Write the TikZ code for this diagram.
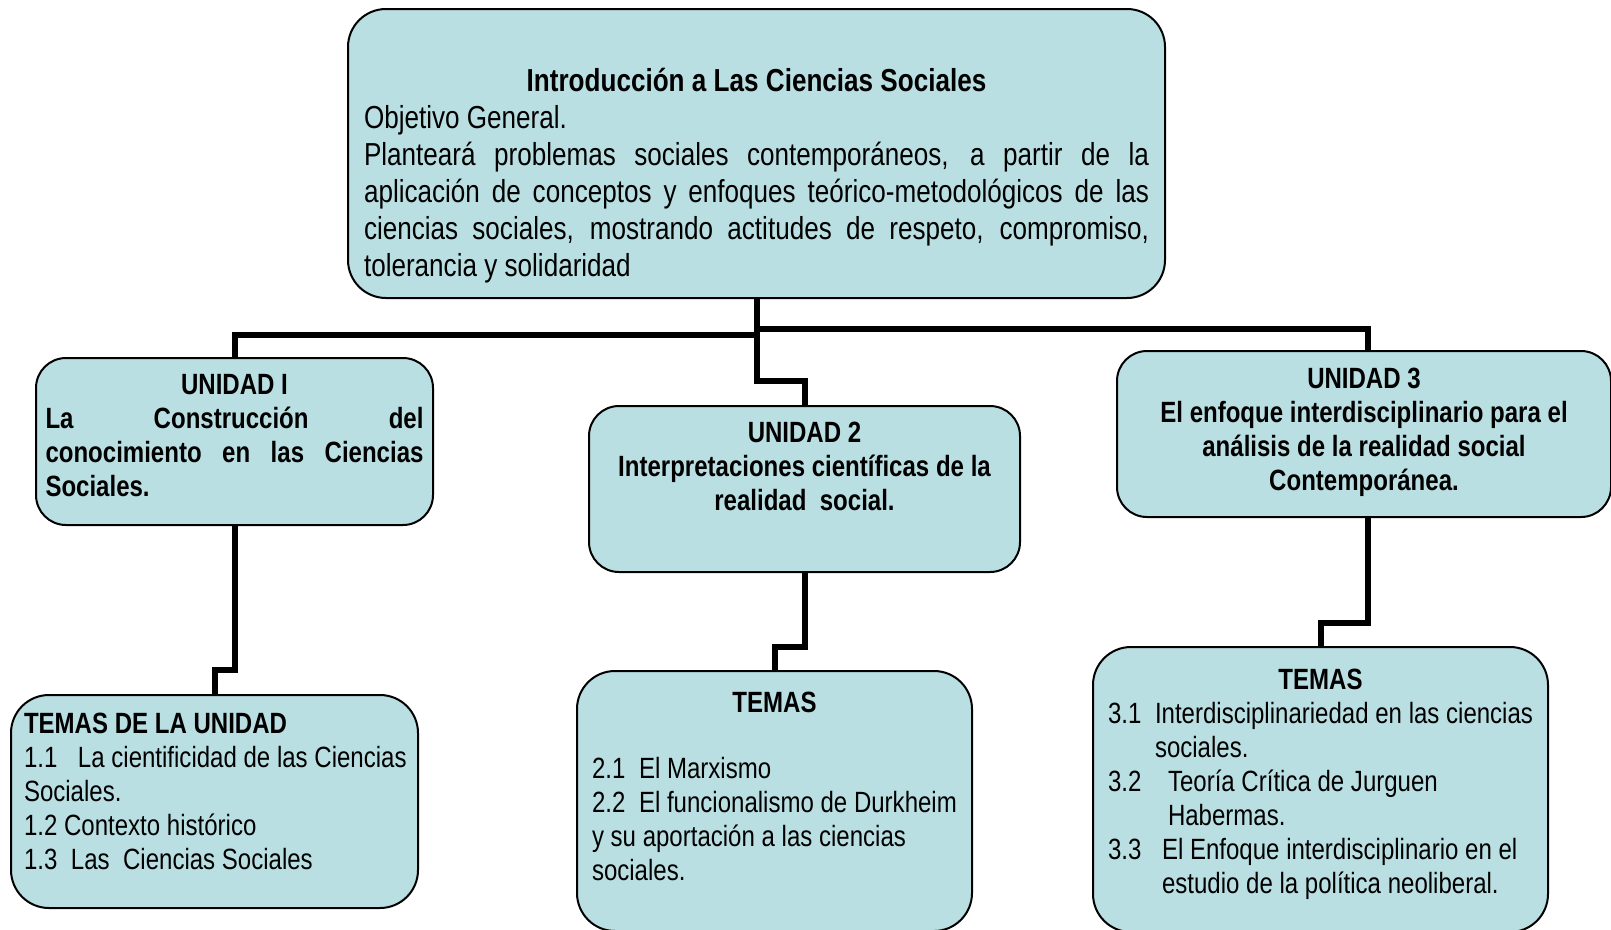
\documentclass[tikz,border=0pt]{standalone}
\usepackage{fontspec}
\setmainfont[FakeStretch=0.82]{Liberation Sans}
\usepackage{tikz}
\usetikzlibrary{positioning}
\usetikzlibrary{calc}

\definecolor{boxfill}{RGB}{185,223,227}
\newcommand{\jline}[1]{{\spaceskip=7pt plus 1fil\makebox[\linewidth][s]{#1}}}
\newcommand{\cenline}[1]{\makebox[\linewidth][c]{#1}}
\newcommand{\tema}[3]{\makebox[#1][l]{#2}\mbox{#3}}

\begin{document}
\begin{tikzpicture}[x=1pt,y=-1pt,main node/.style={draw,fill=boxfill,line width=2pt,rounded corners=38pt,anchor=north west,inner ysep=0pt,align=left,font=\fontsize{29.3}{34}\selectfont,execute at begin node={\spaceskip=6.7pt minus 1pt}},unit node/.style={main node,rounded corners=30pt,inner xsep=10pt,align=center,font=\bfseries\fontsize{29.3}{34}\selectfont},link/.style={line width=6pt,draw=black}]
	\useasboundingbox (0,0) rectangle (1611,929);

	% objetivo general
	\node[main node,text width=785pt,inner xsep=16pt,text height=82pt,text depth=207pt,font=\fontsize{31.8}{37}\selectfont,execute at begin node={\spaceskip=7.3pt minus 1pt}] (intro) at (347,8) {\cenline{\bfseries Introducción a Las Ciencias Sociales}\\
		Objetivo General.\\
		\jline{Planteará problemas sociales contemporáneos, a partir de la}\\
		\jline{aplicación de conceptos y enfoques teórico-metodológicos de las}\\
		\jline{ciencias sociales, mostrando actitudes de respeto, compromiso,}\\
		tolerancia y solidaridad};

	% unidades
	\node[unit node,align=left,inner xsep=9.5pt,text width=378pt,text height=36pt,text depth=131pt] (u1) at (35,357) {\cenline{UNIDAD I}\\
		\jline{La Construcción del}\\
		\jline{conocimiento en las Ciencias}\\
		Sociales.};
	\node[unit node,text width=411pt,text height=36pt,text depth=130pt] (u2) at (588,405) {UNIDAD 2\\ Interpretaciones científicas de la\\ realidad\ \ social.};
	\node[unit node,text width=474pt,text height=37pt,text depth=129pt] (u3) at (1116,350) {UNIDAD 3\\ El enfoque interdisciplinario para el\\ análisis de la realidad social\\ Contemporánea.};

	% temas
	\node[main node,inner xsep=13pt,text width=381pt,text height=38pt,text depth=175pt] (t1) at (10,694) {\textbf{TEMAS DE LA UNIDAD}\\
		\tema{54pt}{1.1}{La cientificidad de las Ciencias}\\
		Sociales.\\
		1.2 Contexto histórico\\
		\tema{47pt}{1.3}{Las\ \ Ciencias Sociales}};
	\node[main node,inner xsep=15pt,text width=365pt,text height=41pt,text depth=219pt] (t2) at (576,670) {\cenline{\bfseries TEMAS}\\[32pt]
		\tema{47pt}{2.1}{El Marxismo}\\
		\tema{47pt}{2.2}{El funcionalismo de Durkheim}\\
		y su aportación a las ciencias\\
		sociales.};
	\node[main node,inner xsep=15pt,text width=425pt,text height=42pt,text depth=243pt] (t3) at (1092,646) {\cenline{\bfseries TEMAS}\\
		\tema{47pt}{3.1}{Interdisciplinariedad en las ciencias}\\
		\hspace*{47pt}sociales.\\
		\tema{60pt}{3.2}{Teoría Crítica de Jurguen}\\
		\hspace*{60pt}Habermas.\\
		\tema{54pt}{3.3}{El Enfoque interdisciplinario en el}\\
		\hspace*{54pt}estudio de la política neoliberal.};

	\draw[link] (intro.south) -- ++(0,36) -| (u1.north);
	\draw[link] (intro.south) -- ++(0,30) -| ([xshift=4pt]u3.north);
	\draw[link] (intro.south) -- ++(0,82) -| (u2.north);
	\draw[link] (u1.south) -- ++(0,144) -| (t1.north);
	\draw[link] (u2.south) -- ++(0,74) -| (t2.north);
	\draw[link] ([xshift=4pt]u3.south) -- ++(0,105) -| (t3.north);
\end{tikzpicture}
\end{document}
